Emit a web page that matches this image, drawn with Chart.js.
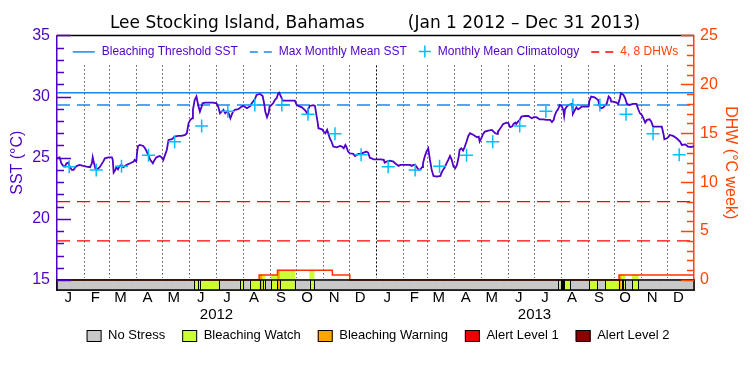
<!DOCTYPE html>
<html lang="en">
<head>
  <meta charset="UTF-8" />
  <title>Lee Stocking Island, Bahamas</title>
  <style>
    body { margin: 0; background: #fff; }
  </style>
</head>
<body>
  <canvas id="dhwChart" width="750" height="375"></canvas>
  <script src="https://cdn.jsdelivr.net/npm/chart.js@4.4.1/dist/chart.umd.min.js"></script>
  <script>
    const FONT = "'Liberation Sans', Arial, sans-serif";
    const PURPLE = "#5000c8";
    const ORANGE = "#ff4500";
    const RED = "#ff0000";
    const BLUE = "#1c86ee";
    const CYAN = "#00bfff";

    // days are counted from 1 Jan 2012
    const endDay = 731;
    const monthStarts = [0, 31, 60, 91, 121, 152, 182, 213, 244, 274, 305, 335,
      366, 397, 425, 456, 486, 517, 547, 578, 609, 639, 670, 700];
    const monthLetters = ["J", "F", "M", "A", "M", "J", "J", "A", "S", "O", "N", "D",
      "J", "F", "M", "A", "M", "J", "J", "A", "S", "O", "N", "D"];
    const yearLabels = ["2012", "2013"];
    const yearMids = [183, 548];

    const sstDays = [0, 3, 5, 7, 9, 11, 13, 15, 17, 19, 21, 23, 26, 30, 34, 38, 40, 41, 42, 44, 46, 49, 53, 55, 59, 63, 64, 65, 67, 68,
      70, 72, 74, 76, 80, 84, 88, 89, 91, 92, 93, 95, 99, 101, 103, 107, 110, 112, 114, 118, 120, 122, 124, 126, 128, 132, 135, 139, 143, 147,
      149, 151, 153, 155, 156, 158, 160, 162, 164, 166, 167, 170, 174, 179, 183, 185, 187, 189, 191, 193, 195, 197, 199, 200, 202, 204, 208, 212, 214, 218,
      222, 223, 225, 227, 229, 233, 236, 238, 239, 241, 243, 244, 246, 248, 250, 252, 254, 255, 257, 259, 264, 269, 273, 275, 277, 281, 285, 287, 288, 290,
      294, 296, 298, 299, 300, 304, 306, 308, 310, 311, 313, 315, 317, 321, 325, 327, 329, 331, 332, 334, 336, 340, 342, 344, 346, 348, 352, 355, 357, 359,
      361, 363, 367, 371, 375, 376, 378, 382, 386, 388, 392, 394, 397, 401, 405, 407, 409, 411, 413, 415, 417, 419, 420, 422, 424, 426, 428, 430, 432, 436,
      440, 441, 443, 445, 447, 449, 451, 453, 455, 457, 459, 461, 462, 464, 466, 468, 470, 472, 474, 478, 482, 484, 485, 487, 489, 491, 495, 499, 501, 503,
      505, 506, 508, 510, 512, 516, 518, 520, 522, 524, 526, 527, 529, 531, 533, 537, 541, 543, 545, 547, 550, 554, 558, 562, 566, 568, 570, 571, 573, 575,
      577, 579, 581, 582, 583, 585, 587, 591, 592, 594, 596, 598, 600, 602, 606, 610, 611, 613, 617, 621, 623, 625, 627, 631, 633, 635, 636, 638, 642, 644,
      646, 647, 650, 652, 654, 657, 661, 665, 667, 669, 671, 673, 675, 677, 680, 682, 684, 686, 690, 694, 696, 697, 700, 702, 703, 707, 711, 715, 717, 721,
      724, 728, 731];
    const sstValues = [24.95, 25.03, 24.54, 24.33, 24.27, 24.54, 24.6, 24.22, 24.0, 24.0, 24.22, 24.33, 24.41, 24.33, 24.27, 24.22, 24.54, 25.03, 24.68, 24.13, 24.05, 24.22, 24.68, 24.95, 25.03, 25.03, 24.82, 23.78, 24.0, 24.22,
      24.05, 24.33, 24.41, 24.22, 24.41, 24.54, 24.68, 24.82, 24.68, 25.5, 25.96, 26.04, 25.96, 25.77, 25.5, 24.82, 24.54, 24.82, 25.03, 25.14, 25.03, 24.82, 25.23, 25.63, 26.45, 26.51, 26.72, 26.78, 26.78, 26.86,
      27.0, 27.82, 28.09, 28.22, 28.91, 29.72, 30.0, 29.31, 28.77, 29.18, 29.45, 29.51, 29.51, 29.51, 29.45, 29.18, 28.63, 28.77, 28.91, 28.63, 28.77, 28.63, 28.22, 28.41, 28.77, 28.91, 28.96, 29.18, 29.23, 29.04,
      29.23, 29.4, 29.59, 29.78, 30.13, 30.21, 30.05, 29.31, 28.77, 28.31, 28.69, 29.18, 29.31, 29.45, 29.72, 29.86, 30.27, 30.32, 30.0, 29.67, 29.67, 29.67, 29.67, 29.31, 29.23, 29.12, 28.85, 28.63, 28.91, 29.23,
      29.29, 29.23, 28.36, 27.95, 27.41, 27.32, 27.13, 27.0, 27.27, 27.05, 26.59, 26.32, 25.91, 25.85, 25.96, 25.91, 25.77, 26.04, 25.91, 25.5, 25.36, 25.31, 25.14, 25.23, 25.31, 25.31, 25.42, 25.5, 25.42, 25.0,
      24.95, 24.87, 24.87, 24.87, 24.82, 24.6, 24.68, 24.76, 24.68, 24.54, 24.33, 24.41, 24.41, 24.41, 24.41, 24.33, 24.41, 24.41, 24.22, 24.0, 24.05, 24.22, 24.54, 25.09, 25.5, 25.77, 24.82, 24.0, 23.51, 23.45,
      23.51, 23.73, 24.0, 24.22, 24.54, 24.82, 25.14, 24.82, 24.27, 24.13, 24.41, 25.09, 25.63, 25.77, 25.58, 25.91, 26.32, 26.78, 27.0, 26.86, 26.67, 26.72, 26.32, 26.59, 26.94, 27.13, 27.22, 27.27, 27.13, 27.0,
      26.94, 27.13, 27.32, 27.54, 27.76, 27.87, 27.82, 27.49, 27.54, 27.76, 27.87, 27.76, 27.95, 28.09, 28.36, 28.41, 28.41, 28.31, 28.22, 28.31, 28.31, 28.14, 28.14, 28.09, 28.09, 27.92, 28.09, 28.41, 28.77, 28.96,
      29.31, 29.23, 28.91, 28.41, 28.96, 29.18, 29.31, 29.4, 28.58, 28.85, 29.12, 28.96, 29.04, 29.18, 29.18, 29.18, 29.67, 30.0, 29.94, 29.72, 29.12, 29.04, 29.12, 29.45, 30.0, 29.86, 29.59, 29.59, 29.51, 29.4,
      29.86, 30.27, 30.13, 29.86, 29.4, 29.31, 29.4, 29.4, 28.96, 28.63, 28.5, 28.22, 27.87, 28.09, 28.14, 27.95, 27.54, 27.54, 27.54, 27.54, 26.94, 26.51, 26.59, 26.72, 26.86, 26.78, 26.59, 26.32, 26.04, 26.09,
      25.91, 25.86, 25.96];

    // monthly mean climatology, plotted on the 15th of each month
    const climMonthly = [24.25, 24.0, 24.3, 25.2, 26.3, 27.6, 28.8, 29.3, 29.3, 28.55, 26.95, 25.25];
    const bleachingThreshold = 30.3;
    const maxMonthlyMean = 29.3;
    const dhwGuides = [4, 8];

    // degree heating weeks, each value holds until the next day listed
    const dhwDays = [0, 232, 253, 316, 336, 645, 731];
    const dhwValues = [0, 0.5, 1, 0.5, 0, 0.5, 0.5];

    // stress periods (level 1 = watch, 2 = warning)
    const stressStart = [157, 162, 164, 210, 221, 233, 236, 246, 253, 256, 290, 575, 579, 582, 611, 629, 645, 648, 650, 660];
    const stressEnd = [162, 164, 186, 214, 233, 236, 239, 253, 256, 273, 295, 578, 581, 589, 620, 645, 648, 650, 652, 667];
    const stressLevel = [1, 1, 1, 1, 1, 2, 1, 1, 2, 1, 1, 1, 1, 1, 1, 1, 2, 1, 1, 1];

    const stressNames = ["No Stress", "Bleaching Watch", "Bleaching Warning", "Alert Level 1", "Alert Level 2"];
    const stressColors = ["#c8c8c8", "#ccff33", "#ffa500", "#ee0000", "#8b0000"];

    // bottom of the stress strip, below 15 on the SST axis
    const stripBase = 14.18;
    const dhwMin = (stripBase - 15) * 25 / 20;

    const levelOnDay = (d) => {
      for (let i = 0; i < stressStart.length; i++) {
        if (d >= stressStart[i] && d < stressEnd[i]) return stressLevel[i];
      }
      return 0;
    };
    const dhwOnDay = (d) => {
      let v = 0;
      dhwDays.forEach((s, i) => { if (d >= s) v = dhwValues[i]; });
      return v;
    };

    const allDays = [];
    for (let d = 0; d < endDay; d++) allDays.push(d);
    const dayColors = allDays.map((d) => stressColors[levelOnDay(d)]);

    const climDays = monthStarts.map((d) => d + 14);
    const climValues = climMonthly.concat(climMonthly);

    const hline = (v) => [{ x: 0, y: v }, { x: endDay, y: v }];

    const datasets = [
      {
        type: "line", label: "SST", yAxisID: "y", order: 3,
        data: sstDays.map((d, i) => ({ x: d, y: sstValues[i] })),
        borderColor: PURPLE, borderWidth: 1.8, pointRadius: 0, tension: 0
      },
      {
        type: "line", label: "Monthly Mean Climatology", yAxisID: "y", order: 2,
        data: climDays.map((d, i) => ({ x: d, y: climValues[i] })),
        showLine: false, pointStyle: "cross", pointRadius: 6.5,
        pointBorderColor: CYAN, pointBorderWidth: 1.5
      },
      {
        type: "line", label: "Bleaching Threshold SST", yAxisID: "y", order: 6,
        data: hline(bleachingThreshold), borderColor: BLUE, borderWidth: 1.5, pointRadius: 0
      },
      {
        type: "line", label: "Max Monthly Mean SST", yAxisID: "y", order: 6,
        data: hline(maxMonthlyMean), borderColor: BLUE, borderWidth: 1.5, borderDash: [13, 7], pointRadius: 0
      },
      ...dhwGuides.map((g) => ({
        type: "line", label: g + " DHW", yAxisID: "y2", order: 7,
        data: hline(g), borderColor: RED, borderWidth: 1.3, borderDash: [13, 7], pointRadius: 0
      })),
      {
        type: "line", label: "DHW", yAxisID: "y2", order: 4,
        data: dhwDays.map((d, i) => ({ x: d, y: dhwValues[i] })),
        stepped: "before", borderColor: "#ff3300", borderWidth: 1.5, pointRadius: 0
      },
      {
        type: "bar", label: "DHW stress", yAxisID: "y2", order: 8,
        data: allDays.map((d) => ({ x: d + 0.5, y: levelOnDay(d) > 0 ? dhwOnDay(d) : null })),
        backgroundColor: dayColors, borderWidth: 0, grouped: false,
        barPercentage: 1, categoryPercentage: 1
      },
      {
        type: "bar", label: "Stress strip", yAxisID: "y", order: 9,
        data: allDays.map((d) => ({ x: d + 0.5, y: [stripBase, 15] })),
        backgroundColor: dayColors, borderWidth: 0, grouped: false,
        barPercentage: 1, categoryPercentage: 1
      }
    ];

    const decorPlugin = {
      id: "decor",
      beforeDatasetsDraw(chart) {
        const { ctx, chartArea, scales } = chart;
        const top = chartArea.top + 30;
        const bottom = scales.y.getPixelForValue(15) - 2;
        ctx.save();
        ctx.strokeStyle = "#000";
        ctx.lineWidth = 1;
        monthStarts.forEach((d, i) => {
          if (i === 0) return;
          ctx.setLineDash(i % 12 === 0 ? [2, 2] : [1, 3]);
          const px = Math.round(scales.x.getPixelForValue(d)) + 0.5;
          ctx.beginPath();
          ctx.moveTo(px, top);
          ctx.lineTo(px, bottom);
          ctx.stroke();
        });
        ctx.restore();
      },
      afterDatasetsDraw(chart) {
        const { ctx, chartArea, scales } = chart;
        const x = scales.x, y = scales.y, y2 = scales.y2;
        ctx.save();

        // strip outline and period separators
        const sTop = y.getPixelForValue(15);
        ctx.strokeStyle = "#000";
        ctx.lineWidth = 1;
        stressStart.forEach((s, i) => {
          [s, stressEnd[i]].forEach((d) => {
            const px = Math.round(x.getPixelForValue(d)) + 0.5;
            ctx.beginPath();
            ctx.moveTo(px, sTop);
            ctx.lineTo(px, chartArea.bottom);
            ctx.stroke();
          });
        });
        ctx.lineWidth = 1.5;
        ctx.strokeRect(chartArea.left, sTop, chartArea.right - chartArea.left, chartArea.bottom - sTop);

        // frame top
        ctx.beginPath();
        ctx.moveTo(chartArea.left, chartArea.top);
        ctx.lineTo(chartArea.right, chartArea.top);
        ctx.stroke();

        // inward ticks
        ctx.lineWidth = 1.5;
        ctx.strokeStyle = PURPLE;
        for (let v = 15; v <= 35; v++) {
          const py = Math.round(y.getPixelForValue(v)) + 0.5;
          ctx.beginPath();
          ctx.moveTo(chartArea.left, py);
          ctx.lineTo(chartArea.left + (v % 5 === 0 ? 14 : 7), py);
          ctx.stroke();
        }
        ctx.strokeStyle = ORANGE;
        for (let v = 0; v <= 25; v++) {
          const py = Math.round(y2.getPixelForValue(v)) + 0.5;
          ctx.beginPath();
          ctx.moveTo(chartArea.right, py);
          ctx.lineTo(chartArea.right - (v % 5 === 0 ? 13 : 7), py);
          ctx.stroke();
        }

        // legend inside the plot
        const items = [
          { kind: "line", color: BLUE, dash: [], text: "Bleaching Threshold SST", textColor: PURPLE },
          { kind: "line", color: BLUE, dash: [8, 6], text: "Max Monthly Mean SST", textColor: PURPLE },
          { kind: "cross", color: CYAN, text: "Monthly Mean Climatology", textColor: PURPLE },
          { kind: "line", color: RED, dash: [8, 6], text: "4, 8 DHWs", textColor: ORANGE }
        ];
        ctx.font = "12px " + FONT;
        ctx.textBaseline = "middle";
        ctx.textAlign = "left";
        const markW = (it) => (it.kind === "cross" ? 12 : 22);
        let total = 0;
        items.forEach((it, i) => {
          total += markW(it) + 7 + ctx.measureText(it.text).width + (i < items.length - 1 ? 12 : 0);
        });
        let lx = (chartArea.left + chartArea.right) / 2 - total / 2;
        const ly = chartArea.top + 16;
        items.forEach((it) => {
          ctx.strokeStyle = it.color;
          ctx.lineWidth = 1.5;
          if (it.kind === "line") {
            ctx.setLineDash(it.dash);
            ctx.beginPath();
            ctx.moveTo(lx, ly + 0.5);
            ctx.lineTo(lx + 22, ly + 0.5);
            ctx.stroke();
            ctx.setLineDash([]);
          } else {
            ctx.beginPath();
            ctx.moveTo(lx, ly);
            ctx.lineTo(lx + 12, ly);
            ctx.moveTo(lx + 6, ly - 6);
            ctx.lineTo(lx + 6, ly + 6);
            ctx.stroke();
          }
          lx += markW(it) + 7;
          ctx.fillStyle = it.textColor;
          ctx.fillText(it.text, lx, ly);
          lx += ctx.measureText(it.text).width + 12;
        });

        // stress legend below the chart
        ctx.font = "13px " + FONT;
        let bw = 0;
        stressNames.forEach((n, i) => {
          bw += 15 + 6.5 + ctx.measureText(n).width + (i < stressNames.length - 1 ? 17 : 0);
        });
        let bx = 378 - bw / 2;
        const by = 335.5;
        stressNames.forEach((n, i) => {
          ctx.fillStyle = stressColors[i];
          ctx.fillRect(bx, by - 5.5, 15, 11);
          ctx.strokeStyle = "#000";
          ctx.lineWidth = 1;
          ctx.strokeRect(bx + 0.5, by - 5, 14, 11);
          bx += 15 + 6.5;
          ctx.fillStyle = "#000";
          ctx.fillText(n, bx, by);
          bx += ctx.measureText(n).width + 17;
        });
        ctx.restore();
      }
    };

    const xTicks = monthStarts.map((d) => d + 13).concat(yearMids);

    new Chart(document.getElementById("dhwChart"), {
      type: "line",
      data: { datasets },
      options: {
        responsive: false,
        animation: false,
        events: [],
        layout: { padding: 0 },
        plugins: {
          legend: { display: false },
          tooltip: { enabled: false },
          title: {
            display: true,
            text: "Lee Stocking Island, Bahamas        (Jan 1 2012 \u2013 Dec 31 2013)",
            color: "#000",
            font: { family: "'DejaVu Sans', sans-serif", size: 17, weight: "normal", lineHeight: 1.2 },
            padding: { top: 13, bottom: 2 }
          }
        },
        scales: {
          x: {
            type: "linear", position: "bottom", min: 0, max: endDay, offset: false,
            grid: { display: false, drawTicks: false, offset: false },
            border: { display: true, color: "#000", width: 1.5 },
            afterBuildTicks: (scale) => { scale.ticks = xTicks.map((v) => ({ value: v })); },
            afterFit: (scale) => { scale.height = 85; },
            ticks: {
              autoSkip: false, maxRotation: 0, padding: 0, color: "#000",
              font: { family: FONT, size: 15, lineHeight: 1.1 },
              callback: (v, i) => (i < monthLetters.length ? monthLetters[i] : ["", yearLabels[i - monthLetters.length]])
            }
          },
          y: {
            type: "linear", position: "left", min: stripBase, max: 35,
            grid: { display: false, drawTicks: false },
            border: { display: true, color: PURPLE, width: 1.5 },
            afterBuildTicks: (scale) => { scale.ticks = [15, 20, 25, 30, 35].map((v) => ({ value: v })); },
            afterFit: (scale) => { scale.width = 57; },
            ticks: { color: PURPLE, padding: 7, font: { family: FONT, size: 16 } },
            title: {
              display: true, text: "SST (\u00b0C)", color: PURPLE,
              font: { family: FONT, size: 16 }, padding: { top: 8, bottom: 0 }
            }
          },
          y2: {
            type: "linear", position: "right", min: dhwMin, max: 25,
            grid: { display: false, drawTicks: false },
            border: { display: true, color: ORANGE, width: 1.5 },
            afterBuildTicks: (scale) => { scale.ticks = [0, 5, 10, 15, 20, 25].map((v) => ({ value: v })); },
            afterFit: (scale) => { scale.width = 56; },
            ticks: { color: ORANGE, padding: 6, font: { family: FONT, size: 16 } },
            title: {
              display: true, text: "DHW (\u00b0C week)", color: ORANGE,
              font: { family: FONT, size: 16 }, padding: { top: 10, bottom: 0 }
            }
          }
        }
      },
      plugins: [decorPlugin]
    });
  </script>
</body>
</html>
